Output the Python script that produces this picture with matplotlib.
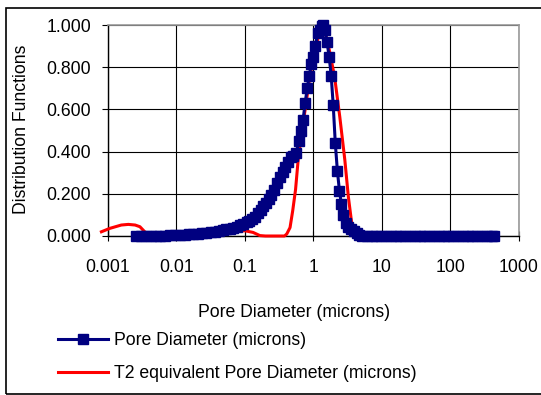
import numpy as np
import matplotlib
matplotlib.use("Agg")
import matplotlib.pyplot as plt
from matplotlib.patches import Rectangle

plt.rcParams['font.family'] = ['Liberation Sans', 'DejaVu Sans']

# Pore Diameter (microns) - mercury injection
diam_pore = [0.00263, 0.00309, 0.00363, 0.00427, 0.00501, 0.00589, 0.00692, 0.00813,
             0.00955, 0.0112, 0.0132, 0.0155, 0.0178, 0.0209, 0.0240, 0.0275, 0.0316,
             0.0363, 0.0417, 0.0479, 0.0537, 0.0603, 0.0676, 0.0759, 0.0851, 0.0955,
             0.107, 0.117, 0.129, 0.141, 0.155, 0.170, 0.186, 0.204, 0.224, 0.245,
             0.269, 0.295, 0.324, 0.355, 0.389, 0.427, 0.468, 0.513, 0.562, 0.617,
             0.661, 0.708, 0.759, 0.813, 0.871, 0.933, 1.00, 1.07, 1.15, 1.23, 1.32,
             1.38, 1.48, 1.58, 1.70, 1.82, 1.95, 2.09, 2.24, 2.40, 2.57, 2.75, 2.95,
             3.24, 3.55, 3.89, 4.27, 4.68, 5.13, 6.03, 7.08, 8.32, 9.77, 11.5, 13.5,
             15.8, 18.6, 21.9, 25.7, 30.2, 35.5, 41.7, 49.0, 57.5, 67.6, 79.4, 93.3,
             110, 129, 151, 178, 209, 245, 288, 339, 398, 427]
dist_pore = [0, 0, 0, 0, 0, 0.001, 0.002, 0.003,
             0.004, 0.005, 0.006, 0.008, 0.010, 0.011, 0.013, 0.016, 0.018,
             0.021, 0.024, 0.027, 0.032, 0.035, 0.039, 0.044, 0.050, 0.057,
             0.064, 0.070, 0.080, 0.090, 0.110, 0.125, 0.140, 0.158, 0.176, 0.194,
             0.220, 0.250, 0.280, 0.305, 0.325, 0.350, 0.375, 0.380, 0.395, 0.450,
             0.500, 0.550, 0.630, 0.700, 0.760, 0.815, 0.850, 0.900, 0.960, 0.975, 0.995,
             1.000, 0.975, 0.920, 0.850, 0.760, 0.620, 0.440, 0.310, 0.215, 0.150, 0.100, 0.060,
             0.044, 0.032, 0.022, 0.012, 0.005, 0, 0, 0, 0, 0, 0, 0,
             0, 0, 0, 0, 0, 0, 0, 0, 0, 0, 0, 0,
             0, 0, 0, 0, 0, 0, 0, 0, 0, 0]

# T2 equivalent Pore Diameter (microns) - NMR
diam_t2 = [0.00081, 0.00107, 0.00158, 0.00200, 0.00251, 0.00295, 0.00347, 0.00389,
           0.00631, 0.0158, 0.0251, 0.0398, 0.0631, 0.100, 0.132, 0.166, 0.200,
           0.380, 0.410, 0.457, 0.500, 0.550, 0.600, 0.650, 0.760, 0.890, 1.05,
           1.22, 1.35, 1.45, 1.64, 2.04, 2.43, 2.88, 3.24, 3.63, 4.27, 5.00,
           7.94, 8.90, 10.0, 11.2, 50.0, 400]
dist_t2 = [0.020, 0.036, 0.052, 0.055, 0.052, 0.044, 0.020, 0.0,
           0, 0, 0.003, 0.010, 0.020, 0.025, 0.017, 0.002, 0,
           0, 0.010, 0.040, 0.120, 0.220, 0.360, 0.450, 0.600, 0.755, 0.880,
           0.960, 0.995, 0.980, 0.910, 0.755, 0.565, 0.360, 0.186, 0.060, 0.005, 0,
           0.005, 0.012, 0.005, 0, 0, 0]

yticks = [0.0, 0.2, 0.4, 0.6, 0.8, 1.0]
xticks = [0.001, 0.01, 0.1, 1, 10, 100, 1000]
xtick_labels = ['0.001', '0.01', '0.1', '1', '10', '100', '1000']

W, H = 541, 395
fig = plt.figure(figsize=(W / 100, H / 100), dpi=100)
ax = fig.add_axes([107.7 / W, 1 - 236 / H, 411.3 / W, 211 / H])

ax.plot(diam_t2, dist_t2, color='#ff0000', lw=2.2, zorder=3, clip_on=False,
        label='T2 equivalent Pore Diameter (microns)')
ax.plot(diam_pore, dist_pore, color='#000080', lw=2.2, marker='s', ms=7,
        zorder=4, clip_on=False, label='Pore Diameter (microns)')

ax.set_xscale('log')
ax.set_xlim(0.001, 1000)
ax.set_ylim(0, 1.0)
ax.set_xticks(xticks)
ax.set_xticklabels(xtick_labels)
ax.xaxis.set_minor_locator(matplotlib.ticker.NullLocator())
ax.set_yticks(yticks)
ax.set_yticklabels(['%.3f' % v for v in yticks])

ax.grid(True, color='#000000', lw=0.8)
ax.set_axisbelow(True)
for s in ['top', 'right']:
    ax.spines[s].set_color('#999999')
    ax.spines[s].set_linewidth(1.2)
for s in ['left', 'bottom']:
    ax.spines[s].set_color('#000000')
    ax.spines[s].set_linewidth(1.0)

ax.tick_params(axis='x', direction='inout', length=7, pad=13, labelsize=12.7)
ax.tick_params(axis='y', direction='out', length=4, pad=8, labelsize=12.7)

ax.set_xlabel('Pore Diameter (microns)', fontsize=12.7)
ax.xaxis.set_label_coords(0.454, -0.324)
ax.set_ylabel('Distribution Functions', fontsize=12.7)
ax.yaxis.set_label_coords(-0.189, 0.507)

handles, labels = ax.get_legend_handles_labels()
fig.legend(handles[::-1], labels[::-1], loc='upper left',
           bbox_to_anchor=(58 / W, 1 - 332 / H), frameon=False,
           fontsize=12.7, handlelength=2.85, handletextpad=0.3,
           labelspacing=0.92, borderaxespad=0, borderpad=0)

fig.patches.append(Rectangle((6 / W, 1 / H), 1.0, 1 - 9 / H, transform=fig.transFigure,
                             fill=False, edgecolor='#000000', lw=1.2))

fig.savefig('out.png', dpi=100)
